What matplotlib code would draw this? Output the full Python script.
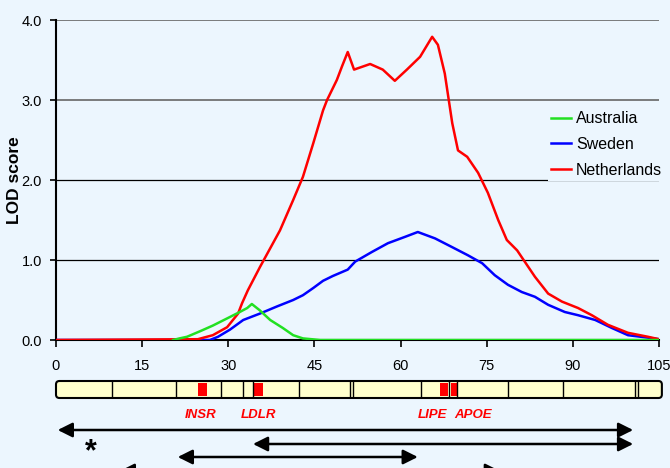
import matplotlib
matplotlib.use("Agg")
import matplotlib.pyplot as plt
from matplotlib.patches import FancyBboxPatch, Rectangle
from matplotlib.transforms import blended_transform_factory

plt.rcParams['font.family'] = ['Liberation Sans', 'DejaVu Sans']

# Posiciones (cM) y puntuaciones LOD
aus_x = [20.4, 21.5, 22.8, 25.1, 27.3, 29.8, 32.0, 33.3, 34.1, 35.5, 37.3, 39.5, 41.3, 43.0, 46.0, 105]
aus_y = [0.0, 0.02, 0.04, 0.11, 0.18, 0.27, 0.35, 0.40, 0.45, 0.37, 0.25, 0.15, 0.06, 0.02, 0.0, 0.0]

swe_x = [0, 26.8, 28.2, 30.3, 32.6, 35.5, 38.5, 41.3, 43.0, 44.8, 46.5, 48.2, 50.8, 52.1, 55.0, 57.8,
         60.8, 63.0, 66.0, 69.0, 71.7, 74.2, 76.4, 78.7, 81.1, 83.4, 85.7, 88.6, 90.9, 93.9, 96.8,
         99.6, 103.0, 105]
swe_y = [0, 0, 0.04, 0.13, 0.25, 0.33, 0.42, 0.50, 0.56, 0.65, 0.74, 0.80, 0.88, 0.98, 1.10, 1.21,
         1.29, 1.35, 1.27, 1.16, 1.06, 0.96, 0.81, 0.69, 0.60, 0.54, 0.44, 0.35, 0.31, 0.25, 0.15,
         0.06, 0.03, 0.01]

ned_x = [0, 24.7, 27.3, 29.8, 31.7, 32.4, 33.4, 35.5, 39.0, 41.3, 43.0, 44.8, 46.5, 47.2, 48.9, 49.8,
         50.8, 51.9, 54.7, 56.9, 59.0, 61.1, 63.4, 65.5, 66.5, 67.7, 69.0, 70.0, 71.6, 73.5, 75.2,
         77.0, 78.5, 80.3, 83.4, 85.7, 88.1, 90.9, 93.3, 96.1, 99.6, 103.1, 105]
ned_y = [0, 0.01, 0.06, 0.16, 0.33, 0.46, 0.62, 0.91, 1.37, 1.75, 2.04, 2.46, 2.87, 3.0, 3.25, 3.42,
         3.6, 3.38, 3.45, 3.38, 3.24, 3.38, 3.54, 3.79, 3.69, 3.33, 2.71, 2.37, 2.29, 2.09, 1.84,
         1.50, 1.25, 1.12, 0.79, 0.58, 0.48, 0.40, 0.31, 0.19, 0.09, 0.04, 0.01]

xticks = [0, 15, 30, 45, 60, 75, 90, 105]
yticks = [0.0, 1.0, 2.0, 3.0, 4.0]

# Cromosoma: bandas, genes y regiones
bandas = [9.75, 20.9, 28.7, 32.6, 34.3, 42.3, 51.2, 51.7, 63.6, 68.4, 69.8, 78.7, 88.3, 100.8, 101.3]
genes_ini = [24.7, 34.5, 66.9, 68.8]
genes_fin = [26.3, 36.0, 68.3, 69.8]
gen_nombres = ['INSR', 'LDLR', 'LIPE', 'APOE']
gen_pos = [25.1, 35.2, 65.6, 72.6]
reg_ini = [0.3, 34.3, 21.2, 11.1]
reg_fin = [100.5, 100.5, 63.0, 77.3]
reg_ypx = [38, 24, 11, -3]

bg = '#ECF6FE'
W, H = 670, 468
fig = plt.figure(figsize=(6.7, 4.68), dpi=100, facecolor=bg)
ax = fig.add_axes([56 / W, 128 / H, 603 / W, 320 / H], facecolor=bg)

for v in yticks[1:]:
    ax.axhline(v, color='#666666' if v >= 3 else 'black', lw=1.2 if v >= 3 else 0.9, zorder=1)

ax.plot(swe_x, swe_y, color='#0000FF', lw=1.8, label='Sweden', zorder=3)
ax.plot(ned_x, ned_y, color='#FF0000', lw=1.8, label='Netherlands', zorder=3)
ax.plot(aus_x, aus_y, color='#22E022', lw=1.8, label='Australia', zorder=3)

ax.set_xlim(0, 105)
ax.set_ylim(0, 4)
ax.set_xticks(xticks)
ax.set_yticks(yticks)
ax.set_yticklabels([f'{v:.1f}' for v in yticks])
ax.tick_params(axis='x', direction='out', length=5, width=1.2, pad=9, labelsize=10.5)
ax.tick_params(axis='y', direction='out', length=4, width=1.2, pad=6, labelsize=10.5)
for s in ['top', 'right']:
    ax.spines[s].set_visible(False)
for s in ['left', 'bottom']:
    ax.spines[s].set_linewidth(1.5)
ax.set_ylabel('LOD score', fontsize=12.5, fontweight='bold')
ax.yaxis.set_label_coords(-0.056, 0.5)

h, l = ax.get_legend_handles_labels()
orden = [2, 0, 1]
leg = ax.legend([h[i] for i in orden], [l[i] for i in orden], loc='upper left',
                bbox_to_anchor=(548 / W, 1 - 108 / H), bbox_transform=fig.transFigure,
                fontsize=11.5, frameon=True, facecolor=bg, edgecolor='none', framealpha=1,
                fancybox=False, borderpad=0.2, borderaxespad=0, handlelength=1.25,
                handletextpad=0.3, labelspacing=0.67)

# barra del cromosoma
ax2 = fig.add_axes([56 / W, (468 - 398) / H, 603 / W, 17 / H])
ax2.set_xlim(0, 105)
ax2.set_ylim(0, 1)
ax2.axis('off')
bar = FancyBboxPatch((0, 0), 105.5, 1, boxstyle='round,pad=0,rounding_size=0.6',
                     mutation_aspect=5.743 / 17, facecolor='#FFFFCC', edgecolor='black',
                     lw=1.5, clip_on=False, zorder=1)
ax2.add_patch(bar)
for a, b in zip(genes_ini, genes_fin):
    ax2.add_patch(Rectangle((a, 0.1), b - a, 0.8, facecolor='#FF0000', edgecolor='none', zorder=2))
for b in bandas:
    ax2.plot([b, b], [0, 1], color='black', lw=1.0, zorder=3)

tr = blended_transform_factory(ax2.transData, fig.transFigure)
for x, n in zip(gen_pos, gen_nombres):
    ax2.text(x, 1 - 415 / H, n, transform=tr, color='#FF0000', fontsize=9.5,
             fontweight='bold', fontstyle='italic', ha='center', va='center')

for a, b, y in zip(reg_ini, reg_fin, reg_ypx):
    ax2.annotate('', xy=(b, y), xytext=(a, y), xycoords=('data', 'figure pixels'),
                 textcoords=('data', 'figure pixels'), annotation_clip=False,
                 arrowprops=dict(arrowstyle='<|-|>', mutation_scale=22, color='black',
                                 lw=1.8, shrinkA=0, shrinkB=0))

fig.text(91 / W, 1 - 452 / H, '*', fontsize=22, fontweight='bold', ha='center', va='center')

fig.savefig('out.png', dpi=100, facecolor=bg)
